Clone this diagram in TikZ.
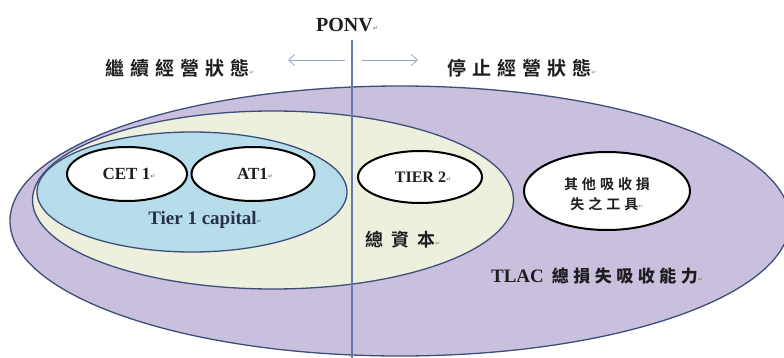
\documentclass[tikz,border=0pt]{standalone}
\usepackage{fontspec}
\setmainfont{Liberation Serif}
\newfontfamily\cjk{Noto Sans CJK TC Bold}
\newfontfamily\dejavu{DejaVu Sans}
\usetikzlibrary{shapes.geometric,arrows.meta}
\definecolor{purplefill}{RGB}{201,192,222}
\definecolor{yellowfill}{RGB}{238,240,222}
\definecolor{bluefill}{RGB}{183,221,235}
\definecolor{rimblue}{RGB}{62,78,122}
\definecolor{ponvblue}{RGB}{100,122,172}
\definecolor{arrowgrey}{RGB}{150,168,195}
\definecolor{inkdark}{RGB}{30,30,34}
\definecolor{tierink}{RGB}{38,50,70}
\newlength\ls
\def\g{\hskip\ls}
\def\ret{{\dejavu\fontsize{6}{6}\selectfont\color{gray}\raisebox{1pt}{↵}}}
\begin{document}
\begin{tikzpicture}[x=1pt,y=-1pt,
  zone/.style={ellipse,draw=rimblue,line width=1.3pt,inner sep=0pt},
  capbox/.style={ellipse,draw=black,line width=2pt,fill=white,inner sep=0pt},
  entext/.style={font=\bfseries\fontsize{#1}{#1}\selectfont,text=inkdark,inner sep=0pt},
  cjktext/.style={font=\cjk\fontsize{#1}{#1}\selectfont,text=inkdark,inner sep=0pt,align=center},
  dirarrow/.style={draw=arrowgrey,line width=0.8pt,-{Straight Barb[length=6pt,width=11pt]}}
]
\useasboundingbox (0,0) rectangle (784,358);
\fill[white] (0,0) rectangle (784,358);
% nested zones
\node[zone,fill=purplefill,minimum width=780pt,minimum height=270pt] (tlac) at (400,221) {};
\node[zone,fill=yellowfill,minimum width=481pt,minimum height=178pt] (total) at (273,200) {};
\node[zone,fill=bluefill,minimum width=310pt,minimum height=120pt] (tier1) at (192,192) {};
% capital instruments
\node[capbox,minimum width=120pt,minimum height=54pt] (cet) at (127,174) {};
\node[capbox,minimum width=123pt,minimum height=54pt] (at) at (253,174) {};
\node[capbox,minimum width=124pt,minimum height=52pt] (tier2) at (420,177) {};
\node[capbox,minimum width=166pt,minimum height=78pt] (other) at (607,191) {};
% PONV line
\coordinate (ponvtop) at (352,40);
\coordinate (ponvbot) at (352,358);
\draw[ponvblue,line width=1.3pt] (ponvtop) -- (ponvbot);
% direction arrows
\coordinate (la) at (345,60);
\coordinate (lb) at (288,60);
\coordinate (ra) at (362,60);
\coordinate (rb) at (418,60);
\draw[dirarrow] (la) -- (lb);
\draw[dirarrow] (ra) -- (rb);
% labels
\node[entext=20] (ponv) at (347,25) {PONV\ret};
\node[cjktext=19] (going) at (180,68) {\setlength\ls{6pt}繼\g{}續\g{}經\g{}營\g{}狀\g{}態\ret};
\node[cjktext=19] (gone) at (522,68) {\setlength\ls{6pt}停\g{}止\g{}經\g{}營\g{}狀\g{}態\ret};
\node[entext=17] (cetl) at (129,174) {CET 1\ret};
\node[entext=17] (atl) at (255,174) {AT1\ret};
\node[entext=16] (tier2l) at (423,177) {TIER 2\ret};
\node[entext=19,text=tierink] (tier1l) at (205,220) {Tier 1 capital\ret};
\node[cjktext=18] (totall) at (403,240) {\setlength\ls{8pt}總\g{}資\g{}本\ret};
\node[cjktext=14] (otherl) at (607,194) {\setlength\ls{4pt}其\g{}他\g{}吸\g{}收\g{}損\\[6pt]\setlength\ls{4pt}失\g{}之\g{}工\g{}具\ret};
\node[entext=19] (tlacl) at (597,276) {TLAC\hspace{8pt}{\cjk\fontsize{17}{17}\selectfont\setlength\ls{4.5pt}總\g{}損\g{}失\g{}吸\g{}收\g{}能\g{}力}\ret};
\end{tikzpicture}
\end{document}
